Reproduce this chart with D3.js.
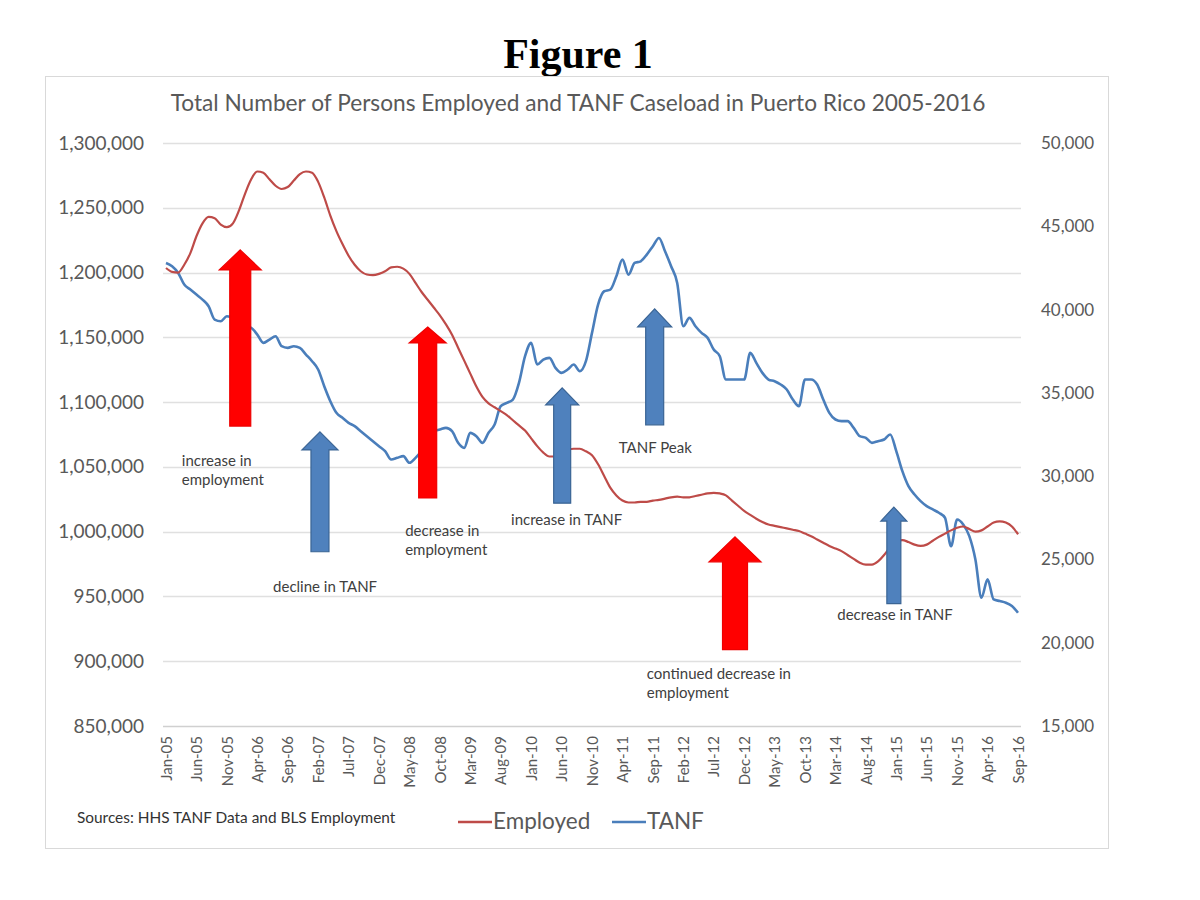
<!DOCTYPE html>
<html>
<head>
<meta charset="utf-8">
<script src="https://cdn.jsdelivr.net/npm/d3@7"></script>
<style>
  body { margin: 0; background: #fff; }
  svg { display: block; }
  .axis text { font-family: Lato, "Open Sans", sans-serif; fill: #595959; }
  .note { font-family: Lato, "Open Sans", sans-serif; fill: #404040; font-size: 15px; }
</style>
</head>
<body>
<div id="chart"></div>
<script>
// x-axis tick labels, one every 5 months (Jan-05 .. Sep-16)
const tickLabels = ["Jan-05","Jun-05","Nov-05","Apr-06","Sep-06","Feb-07","Jul-07","Dec-07",
  "May-08","Oct-08","Mar-09","Aug-09","Jan-10","Jun-10","Nov-10","Apr-11","Sep-11","Feb-12",
  "Jul-12","Dec-12","May-13","Oct-13","Mar-14","Aug-14","Jan-15","Jun-15","Nov-15","Apr-16","Sep-16"];

// monthly values, Jan 2005 .. Sep 2016
const employed = [
  1203500,1200500,1200000,1206000,1215000,1228000,1238000,1243000,1242000,1237000,
  1235000,1238000,1248000,1261000,1272000,1278000,1277000,1272000,1267000,1264500,
  1266000,1271000,1276000,1278000,1277000,1270000,1258000,1244000,1232000,1222000,
  1213000,1206000,1201000,1198500,1198000,1199000,1201000,1204000,1204500,1203000,
  1199000,1192000,1185000,1179000,1173000,1167000,1160000,1152000,1142000,1132000,
  1122000,1112000,1104000,1099000,1096000,1093000,1090000,1086000,1082000,1078000,
  1072000,1066000,1061000,1058000,1058000,1061000,1063000,1064000,1064000,1062000,
  1059000,1052000,1043000,1034000,1028000,1024000,1022500,1022500,1023000,1023000,
  1024000,1024500,1025500,1026500,1027000,1026500,1026500,1027500,1028500,1029500,
  1030000,1029500,1028000,1024000,1020000,1016000,1013000,1010000,1007500,1005500,
  1004500,1003500,1002500,1001500,1000500,998500,996500,994000,991500,989000,
  987000,985000,982000,979000,976000,974500,974500,977000,982000,988000,
  993000,993500,992000,990000,989000,990000,993000,996000,998500,1001000,
  1003000,1004000,1002000,1000000,1001000,1004000,1007000,1008000,1007000,1004000,
  998000
];

const tanf = [
  42800,42600,42200,41500,41200,40900,40600,40200,39400,39300,
  39600,39500,39200,39000,38900,38500,38000,38200,38400,37800,
  37700,37800,37700,37300,36900,36400,35400,34500,33800,33500,
  33200,33000,32700,32400,32100,31800,31500,31000,31100,31200,
  30800,31100,31500,32000,32700,32800,32900,32700,32000,31700,
  32600,32400,32000,32600,33100,34200,34400,34600,35600,37200,
  38000,36700,37000,37100,36500,36200,36400,36700,36300,36900,
  38600,40300,41100,41200,42000,43000,42100,42800,42900,43300,
  43800,44300,43500,42600,41600,39000,39500,39000,38600,38300,
  37600,37200,35800,35800,35800,35800,37400,36800,36200,35800,
  35700,35500,35200,34600,34200,35800,35800,35500,34600,33800,
  33400,33300,33300,32900,32400,32300,32000,32100,32200,32500,
  31500,30300,29400,28900,28500,28200,28000,27800,27500,25800,
  27400,27100,26400,25000,22700,23800,22600,22500,22400,22200,
  21800
];

const leftTicks = [850000,900000,950000,1000000,1050000,1100000,1150000,1200000,1250000,1300000];
const rightTicks = [15000,20000,25000,30000,35000,40000,45000,50000];

// block arrows: month index of the centre, top/bottom on the left axis
const arrows = [
  { m: 12.2, top: 1217500, bottom: 1081500, shaft: 21, head: 42, headLen: 20, color: "red" },
  { m: 25.3, top: 1077000, bottom: 984500,  shaft: 18, head: 36, headLen: 18, color: "blue" },
  { m: 43.0, top: 1158000, bottom: 1026000, shaft: 18, head: 37, headLen: 16, color: "red" },
  { m: 65.1, top: 1111000, bottom: 1022000, shaft: 17, head: 33, headLen: 17, color: "blue" },
  { m: 80.3, top: 1172000, bottom: 1082500, shaft: 18, head: 34, headLen: 18, color: "blue" },
  { m: 93.5, top: 996000,  bottom: 909000,  shaft: 25, head: 52, headLen: 25, color: "red" },
  { m: 119.6, top: 1019000, bottom: 944500, shaft: 14, head: 26, headLen: 14, color: "blue" }
];

// annotation texts: left edge (month index), first baseline (left axis value)
const notes = [
  { m: 2.6,   v: 1051000, lines: ["increase in", "employment"] },
  { m: 17.6,  v: 953500,  lines: ["decline in TANF"] },
  { m: 39.3,  v: 997000,  lines: ["decrease in", "employment"] },
  { m: 56.7,  v: 1005500, lines: ["increase in TANF"] },
  { m: 74.4,  v: 1061000, lines: ["TANF Peak"] },
  { m: 79.0,  v: 886500,  lines: ["continued decrease in", "employment"] },
  { m: 110.3, v: 932000,  lines: ["decrease in TANF"] }
];

const width = 1200, height = 900;
const plot = { left: 166, right: 1018, top: 143, bottom: 726 };

const svg = d3.select("#chart")
  .append("svg")
  .attr("width", width)
  .attr("height", height);

// figure heading
svg.append("text")
  .text("Figure 1")
  .attr("x", 578)
  .attr("y", 68)
  .attr("text-anchor", "middle")
  .attr("font-family", "'Liberation Serif', 'Times New Roman', serif")
  .attr("font-weight", "bold")
  .attr("font-size", "42px")
  .attr("fill", "#000");

// chart frame
svg.append("rect")
  .attr("x", 45.5)
  .attr("y", 76.5)
  .attr("width", 1063)
  .attr("height", 772)
  .attr("fill", "#fff")
  .attr("stroke", "#d9d9d9");

svg.append("text")
  .text("Total Number of Persons Employed and TANF Caseload in Puerto Rico 2005-2016")
  .attr("x", 578)
  .attr("y", 111)
  .attr("text-anchor", "middle")
  .attr("font-family", "Lato, 'Open Sans', sans-serif")
  .attr("font-size", "22.7px")
  .attr("fill", "#595959");

// scales
const xScale = d3.scaleLinear()
  .domain([0, employed.length - 1])
  .range([plot.left, plot.right]);

const yLeft = d3.scaleLinear()
  .domain([850000, 1300000])
  .range([plot.bottom, plot.top]);

const yRight = d3.scaleLinear()
  .domain([15000, 50000])
  .range([plot.bottom, plot.top]);

// gridlines
svg.append("g")
  .selectAll("line")
  .data(leftTicks)
  .join("line")
    .attr("x1", plot.left - 3)
    .attr("x2", plot.right + 3)
    .attr("y1", d => Math.round(yLeft(d)) + 0.5)
    .attr("y2", d => Math.round(yLeft(d)) + 0.5)
    .attr("stroke", d => d === 850000 ? "#d0d0d0" : "#e0e0e0")
    .attr("stroke-width", 1.5);

// left axis
const leftAxis = svg.append("g")
  .attr("class", "axis")
  .attr("transform", `translate(${plot.left - 3},0)`)
  .call(d3.axisLeft(yLeft).tickValues(leftTicks).tickSize(0).tickPadding(19).tickFormat(d3.format(",")));
leftAxis.select(".domain").remove();
leftAxis.selectAll("text").attr("font-size", "19px");

// right axis
const rightAxis = svg.append("g")
  .attr("class", "axis")
  .attr("transform", `translate(${plot.right + 3},0)`)
  .call(d3.axisRight(yRight).tickValues(rightTicks).tickSize(0).tickPadding(20).tickFormat(d3.format(",")));
rightAxis.select(".domain").remove();
rightAxis.selectAll("text").attr("font-size", "17px");

// bottom axis with rotated month labels
const bottomAxis = svg.append("g")
  .attr("class", "axis")
  .attr("transform", `translate(0,${plot.bottom})`)
  .call(d3.axisBottom(xScale)
    .tickValues(d3.range(0, employed.length, 5))
    .tickSize(0)
    .tickFormat((d, i) => tickLabels[i]));
bottomAxis.select(".domain").remove();
bottomAxis.selectAll("text")
  .attr("font-size", "15px")
  .attr("transform", "rotate(-90)")
  .attr("x", -10)
  .attr("y", 0)
  .attr("dy", "0.35em")
  .style("text-anchor", "end");

// lines
const lineEmp = d3.line()
  .x((d, i) => xScale(i))
  .y(d => yLeft(d))
  .curve(d3.curveMonotoneX);

const lineTanf = d3.line()
  .x((d, i) => xScale(i))
  .y(d => yRight(d))
  .curve(d3.curveMonotoneX);

svg.append("path")
  .datum(tanf)
  .attr("d", lineTanf)
  .attr("fill", "none")
  .attr("stroke", "#4a7ebb")
  .attr("stroke-width", 2.6)
  .attr("stroke-linejoin", "round");

svg.append("path")
  .datum(employed)
  .attr("d", lineEmp)
  .attr("fill", "none")
  .attr("stroke", "#be4b48")
  .attr("stroke-width", 2.2)
  .attr("stroke-linejoin", "round");

// block arrows
const arrowPath = a => {
  const cx = xScale(a.m), t = yLeft(a.top), b = yLeft(a.bottom);
  const s = a.shaft / 2, h = a.head / 2, hb = t + a.headLen;
  return `M${cx},${t} L${cx + h},${hb} L${cx + s},${hb} L${cx + s},${b} ` +
         `L${cx - s},${b} L${cx - s},${hb} L${cx - h},${hb} Z`;
};

svg.append("g")
  .selectAll("path")
  .data(arrows)
  .join("path")
    .attr("d", arrowPath)
    .attr("fill", d => d.color === "red" ? "#ff0000" : "#4f81bd")
    .attr("stroke", d => d.color === "red" ? "#ee0000" : "#3a6494")
    .attr("stroke-width", 1.2);

// annotation texts
const noteText = svg.append("g")
  .selectAll("text")
  .data(notes)
  .join("text")
    .attr("class", "note")
    .attr("x", d => xScale(d.m))
    .attr("y", d => yLeft(d.v));

noteText.selectAll("tspan")
  .data(d => d.lines.map((t, i) => ({ t, i, x: xScale(d.m) })))
  .join("tspan")
    .attr("x", d => d.x)
    .attr("dy", d => d.i === 0 ? 0 : 19)
    .text(d => d.t);

// sources
svg.append("text")
  .text("Sources: HHS TANF Data and BLS Employment")
  .attr("x", 77)
  .attr("y", 823)
  .attr("font-family", "Lato, 'Open Sans', sans-serif")
  .attr("font-size", "15.4px")
  .attr("fill", "#333");

// legend
const legendData = [
  { name: "Employed", color: "#be4b48", x: 458 },
  { name: "TANF", color: "#4a7ebb", x: 612 }
];

const legend = svg.append("g").attr("class", "legend");

legendData.forEach(d => {
  legend.append("line")
    .attr("x1", d.x)
    .attr("x2", d.x + 34)
    .attr("y1", 822)
    .attr("y2", 822)
    .attr("stroke", d.color)
    .attr("stroke-width", 2.5);

  legend.append("text")
    .attr("x", d.x + 35)
    .attr("y", 829)
    .attr("font-family", "Lato, 'Open Sans', sans-serif")
    .attr("font-size", "22.5px")
    .attr("fill", "#595959")
    .text(d.name);
});
</script>
</body>
</html>
